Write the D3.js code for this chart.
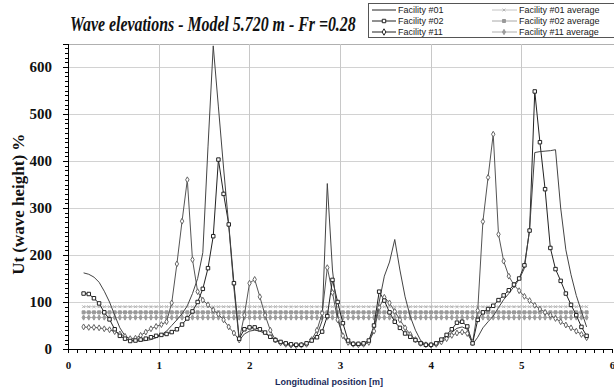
<!DOCTYPE html>
<html><head><meta charset="utf-8">
<script src="https://cdn.jsdelivr.net/npm/d3@7"></script>
<style>body{margin:0;background:#fff} svg{display:block}</style>
</head><body>
<svg id="chart" width="614" height="390"></svg>
<script>
// Longitudinal measurement stations [m]
const stations = [
  0.172,0.229,0.286,0.343,0.400,0.458,0.515,0.572,0.629,0.686,
  0.744,0.801,0.858,0.915,0.972,1.030,1.087,1.144,1.201,1.258,
  1.316,1.373,1.430,1.487,1.544,1.602,1.659,1.716,1.773,1.830,
  1.888,1.945,2.002,2.059,2.116,2.174,2.231,2.288,2.345,2.402,
  2.460,2.517,2.574,2.631,2.688,2.746,2.803,2.860,2.917,2.974,
  3.032,3.089,3.146,3.203,3.260,3.318,3.375,3.432,3.489,3.546,
  3.604,3.661,3.718,3.775,3.832,3.890,3.947,4.004,4.061,4.118,
  4.176,4.233,4.290,4.347,4.404,4.462,4.519,4.576,4.633,4.690,
  4.748,4.805,4.862,4.919,4.976,5.034,5.091,5.148,5.205,5.262,
  5.320,5.377,5.434,5.491,5.548,5.606,5.663,5.720
];
// Ut (% of wave height) per facility at each station
const facility01 = [
  162,159,153,142,123,100,72,45,28,20,
  17,17,18,20,24,30,38,50,62,75,
  92,118,150,205,430,645,515,385,262,130,
  18,32,38,40,38,33,26,20,15,12,
  10,9,9,11,18,30,60,352,168,70,
  26,12,9,8,9,16,42,100,155,185,
  233,168,111,69,40,18,9,9,12,18,
  27,36,44,47,42,10,25,45,58,70,
  88,105,118,133,148,172,255,418,420,421,
  422,424,300,211,158,114,80,47
];
const facility02 = [
  118,117,108,97,78,63,42,28,22,17,
  18,20,22,25,28,30,32,36,42,52,
  65,80,100,128,172,240,403,330,265,140,
  22,42,46,46,42,35,26,19,15,12,
  10,9,9,12,18,25,37,70,147,100,
  55,18,11,11,12,18,50,122,103,78,
  58,45,33,26,19,12,9,9,12,20,
  30,42,56,58,48,12,62,78,85,92,
  104,114,125,137,150,178,252,548,440,340,
  215,170,145,118,94,72,47,28
];
const facility11 = [
  47,46,46,45,43,41,37,32,27,22,
  23,29,36,43,48,52,58,98,181,272,
  360,190,122,104,94,83,74,62,47,34,
  19,72,140,148,111,72,40,19,13,10,
  8,7,8,10,20,40,76,173,120,62,
  28,14,10,9,10,14,38,88,110,98,
  80,62,45,31,20,12,9,8,10,15,
  22,29,34,36,33,14,82,271,365,457,
  244,187,155,136,124,112,103,93,85,78,
  72,65,58,51,45,38,31,24
];
// Mean levels for #01, #02, #11
const averageLevels = [90, 78, 67];
const seriesNames = ["Facility #01", "Facility #02", "Facility #11"];
const averageNames = ["Facility #01 average", "Facility #02 average", "Facility #11 average"];
const xTicks = [0, 1, 2, 3, 4, 5, 6];
const yTicks = [0, 100, 200, 300, 400, 500, 600];

const svg = d3.select("#chart");
const SERIF = "'Liberation Serif','Times New Roman',serif";
const SANS = "'Liberation Sans',Arial,sans-serif";

const x = d3.scaleLinear().domain([0, 6]).range([68, 612]);
const y = d3.scaleLinear().domain([0, 650]).range([349, 43.5]);

// grid
const grid = svg.append("g").attr("shape-rendering", "crispEdges");
grid.selectAll("line.h").data(yTicks.filter(d => d > 0).concat([650])).enter().append("line")
  .attr("x1", x(0)).attr("x2", 614)
  .attr("y1", d => Math.round(y(d)) + 0.5).attr("y2", d => Math.round(y(d)) + 0.5)
  .attr("stroke", d => d === 650 ? "#b0b0b0" : "#d2d2d2").attr("stroke-width", 1);
grid.selectAll("line.v").data(xTicks.filter(d => d > 0 && d < 6)).enter().append("line")
  .attr("x1", d => Math.round(x(d)) + 0.5).attr("x2", d => Math.round(x(d)) + 0.5)
  .attr("y1", y(650)).attr("y2", y(0))
  .attr("stroke", "#c8c8c8").attr("stroke-width", 1);

// axes
const yMinor = d3.range(0, 651, 10);
const xMinor = d3.range(0, 60.5, 1).map(d => d / 10);
const yAxisMinor = svg.append("g").attr("transform", `translate(${x(0)},0)`)
  .call(d3.axisLeft(y).tickValues(yMinor).tickSize(3).tickFormat(""));
const yAxis = svg.append("g").attr("transform", `translate(${x(0)},0)`)
  .call(d3.axisLeft(y).tickValues(yTicks).tickSize(5).tickPadding(11).tickFormat(d3.format("d")));
const xAxisMinor = svg.append("g").attr("transform", `translate(0,${y(0)})`)
  .call(d3.axisBottom(x).tickValues(xMinor).tickSize(4).tickFormat(""));
const xAxis = svg.append("g").attr("transform", `translate(0,${y(0)})`)
  .call(d3.axisBottom(x).tickValues(xTicks).tickSize(4).tickPadding(8).tickFormat(d3.format("d")));
[yAxisMinor, yAxis, xAxisMinor, xAxis].forEach(g => {
  g.selectAll(".domain").attr("stroke", "#000").attr("shape-rendering", "crispEdges");
  g.selectAll(".tick line").attr("stroke", "#000").attr("shape-rendering", "crispEdges");
});
yAxis.selectAll(".tick text").attr("font-family", SERIF).attr("font-size", 15).attr("font-weight", "bold").attr("fill", "#111");
xAxis.selectAll(".tick text").attr("font-family", SERIF).attr("font-size", 11).attr("font-weight", "bold").attr("fill", "#111");

// average levels
const avgStyles = [
  {stroke: "#c4c4c4", mark: "x", size: 6, fill: "none", mstroke: "#b4b4b4"},
  {stroke: "#a8a8a8", mark: "square", size: 9, fill: "#999", mstroke: "#999"},
  {stroke: "#b0b0b0", mark: "diamond", size: 8, fill: "#9c9c9c", mstroke: "#9c9c9c"}
];
function drawMarker(sel, kind, size, fill, stroke) {
  const sym = kind === "square" ? d3.symbolSquare : kind === "diamond" ? d3.symbolDiamond : kind === "x" ? d3.symbolTimes : d3.symbolCircle;
  sel.attr("d", d3.symbol().type(sym).size(size)).attr("fill", fill).attr("stroke", stroke).attr("stroke-width", 1);
}
averageLevels.forEach((lvl, k) => {
  const g = svg.append("g");
  const st = avgStyles[k];
  g.append("line").attr("x1", x(stations[0])).attr("x2", x(stations[stations.length - 1]))
    .attr("y1", y(lvl)).attr("y2", y(lvl)).attr("stroke", st.stroke).attr("stroke-width", 1);
  g.selectAll("path").data(stations).enter().append("path")
    .attr("transform", d => `translate(${x(d)},${y(lvl)})`)
    .call(drawMarker, st.mark, st.size, st.fill, st.mstroke);
});

// measured series
const line = d3.line().x((d, i) => x(stations[i])).y(d => y(d));
svg.append("path").datum(facility11).attr("d", line).attr("fill", "none").attr("stroke", "#555").attr("stroke-width", 1);
svg.append("path").datum(facility02).attr("d", line).attr("fill", "none").attr("stroke", "#222").attr("stroke-width", 1);
svg.append("path").datum(facility01).attr("d", line).attr("fill", "none").attr("stroke", "#444").attr("stroke-width", 1);
svg.append("g").selectAll("path").data(facility11).enter().append("path")
  .attr("transform", (d, i) => `translate(${x(stations[i])},${y(d)})`)
  .call(drawMarker, "diamond", 10, "#fff", "#666");
svg.append("g").selectAll("path").data(facility02).enter().append("path")
  .attr("transform", (d, i) => `translate(${x(stations[i])},${y(d)})`)
  .call(drawMarker, "square", 12, "#fff", "#222");

// title, condensed horizontally to fit left of the legend
const title = svg.append("text").attr("x", 0).attr("y", 0)
  .attr("font-family", SERIF).attr("font-size", 20).attr("font-weight", "bold").attr("font-style", "italic")
  .attr("fill", "#111").text("Wave elevations - Model 5.720 m - Fr =0.28");
const titleW = title.node().getComputedTextLength();
title.attr("transform", `translate(70,31) scale(${286 / titleW},1)`);

// axis titles
svg.append("text").attr("transform", `translate(24,${(y(0) + y(650)) / 2 + 8}) rotate(-90)`)
  .attr("text-anchor", "middle").attr("font-family", SERIF).attr("font-size", 17).attr("font-weight", "bold")
  .attr("fill", "#111").text("Ut (wave height) %");
svg.append("text").attr("x", 329).attr("y", 385).attr("text-anchor", "middle")
  .attr("font-family", SANS).attr("font-size", 9).attr("font-weight", "bold").attr("fill", "#1a2a5a")
  .text("Longitudinal position [m]");

// legend
const lg = svg.append("g");
lg.append("rect").attr("x", 368.5).attr("y", 3.5).attr("width", 260).attr("height", 34)
  .attr("fill", "#fff").attr("stroke", "#555").attr("stroke-width", 1);
const rows = [10, 21, 32];
const mainMarks = [null, "square", "diamond"];
seriesNames.forEach((name, k) => {
  const yy = rows[k];
  lg.append("line").attr("x1", 372).attr("x2", 396).attr("y1", yy).attr("y2", yy).attr("stroke", "#222");
  if (mainMarks[k]) lg.append("path").attr("transform", `translate(384,${yy})`)
    .call(drawMarker, mainMarks[k], 12, "#fff", "#222");
  lg.append("text").attr("x", 398).attr("y", yy + 3).attr("font-family", SANS).attr("font-size", 9)
    .attr("fill", "#222").text(name);
});
averageNames.forEach((name, k) => {
  const yy = rows[k];
  const st = avgStyles[k];
  lg.append("line").attr("x1", 492).attr("x2", 517).attr("y1", yy).attr("y2", yy).attr("stroke", st.stroke);
  lg.append("path").attr("transform", `translate(504,${yy})`).call(drawMarker, st.mark, st.size, st.fill, st.mstroke);
  lg.append("text").attr("x", 519).attr("y", yy + 3).attr("font-family", SANS).attr("font-size", 9)
    .attr("fill", "#222").text(name);
});
</script>
</body></html>
